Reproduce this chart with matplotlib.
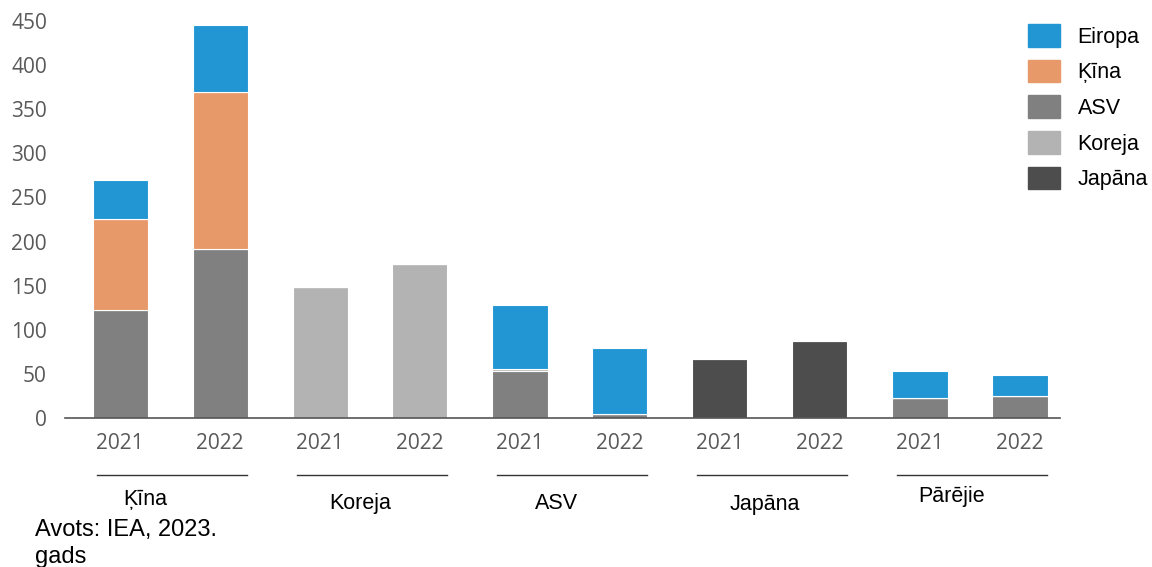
import matplotlib
matplotlib.use("Agg")
import matplotlib.pyplot as plt
import matplotlib.transforms as mtransforms
from matplotlib.patches import Patch
import numpy as np

groups = ["Ķīna", "Koreja", "ASV", "Japāna", "Pārējie"]
years = ["2021", "2022"]

# one value per bar: Ķīna21, Ķīna22, Koreja21, Koreja22, ASV21, ASV22, Jap21, Jap22, Par21, Par22
asv = [122, 192, 0, 0, 53, 5, 0, 0, 23, 25]
kina = [104, 178, 0, 0, 0, 0, 0, 0, 0, 0]
koreja = [0, 0, 148, 175, 2, 0, 0, 0, 0, 0]
japana = [0, 0, 0, 0, 0, 0, 67, 87, 0, 0]
eiropa = [44, 76, 0, 0, 73, 74, 0, 0, 30, 24]

colors = {
    "Eiropa": "#2196d3",
    "Ķīna": "#e8996a",
    "ASV": "#808080",
    "Koreja": "#b3b3b3",
    "Japāna": "#4d4d4d",
}

fig = plt.figure(figsize=(11.52, 5.67), dpi=100)
ax = fig.add_axes([65 / 1152, 1 - 418 / 567, (1060 - 65) / 1152, (418 - 21) / 567])

x = np.arange(10)
w = 0.55
bottom = np.zeros(10)
for name, vals in [("ASV", asv), ("Koreja", koreja), ("Ķīna", kina),
                   ("Japāna", japana), ("Eiropa", eiropa)]:
    vals = np.array(vals, dtype=float)
    ax.bar(x, vals, w, bottom=bottom, color=colors[name],
           edgecolor="white", linewidth=0.8)
    bottom += vals

ax.set_xlim(-0.55, 9.4)
ax.set_ylim(0, 450)
ax.set_yticks(range(0, 451, 50))
ax.set_xticks(x)
ax.set_xticklabels(years * 5)
for s in ["top", "right", "left"]:
    ax.spines[s].set_visible(False)
ax.spines["bottom"].set_color("#555555")
ax.spines["bottom"].set_linewidth(1.2)
ax.tick_params(axis="y", length=0, pad=13, labelsize=15, labelcolor="#595959")
ax.tick_params(axis="x", length=0, pad=11, labelsize=15, labelcolor="#595959")
for lbl in ax.get_xticklabels() + ax.get_yticklabels():
    lbl.set_fontfamily("Open Sans")

# group underlines and names
trans = mtransforms.blended_transform_factory(ax.transData, ax.transAxes)
line_y = 1 - (475 - 21) / 397
name_y = [-0.205, -0.215, -0.215, -0.218, -0.198]
name_dx = [0.25, 0.4, 0.37, 0.45, 0.32]
for i, g in enumerate(groups):
    c0, c1 = x[2 * i], x[2 * i + 1]
    ax.plot([c0 - 0.23, c1 + 0.27], [line_y, line_y], transform=trans,
            color="#333333", lw=1, clip_on=False)
    ax.text(c0 + name_dx[i], name_y[i], g, transform=trans, ha="center",
            va="center", fontsize=15.5, family="Liberation Sans", color="black")

fig.text(35 / 1152, 1 - 530 / 567, "Avots: IEA, 2023.", fontsize=17,
         family="Liberation Sans", va="center")
fig.text(35 / 1152, 1 - 557 / 567, "gads", fontsize=17,
         family="Liberation Sans", va="center")

handles = [Patch(color=colors[n]) for n in ["Eiropa", "Ķīna", "ASV", "Koreja", "Japāna"]]
fig.legend(handles, ["Eiropa", "Ķīna", "ASV", "Koreja", "Japāna"],
           loc="upper left", bbox_to_anchor=(1028 / 1152, 1 - 24 / 567),
           frameon=False, borderpad=0, borderaxespad=0,
           handlelength=1.5, handleheight=1.25,
           labelspacing=0.56, handletextpad=0.8,
           prop={"family": "Liberation Sans", "size": 15.5})

fig.savefig("out.png", dpi=100)
